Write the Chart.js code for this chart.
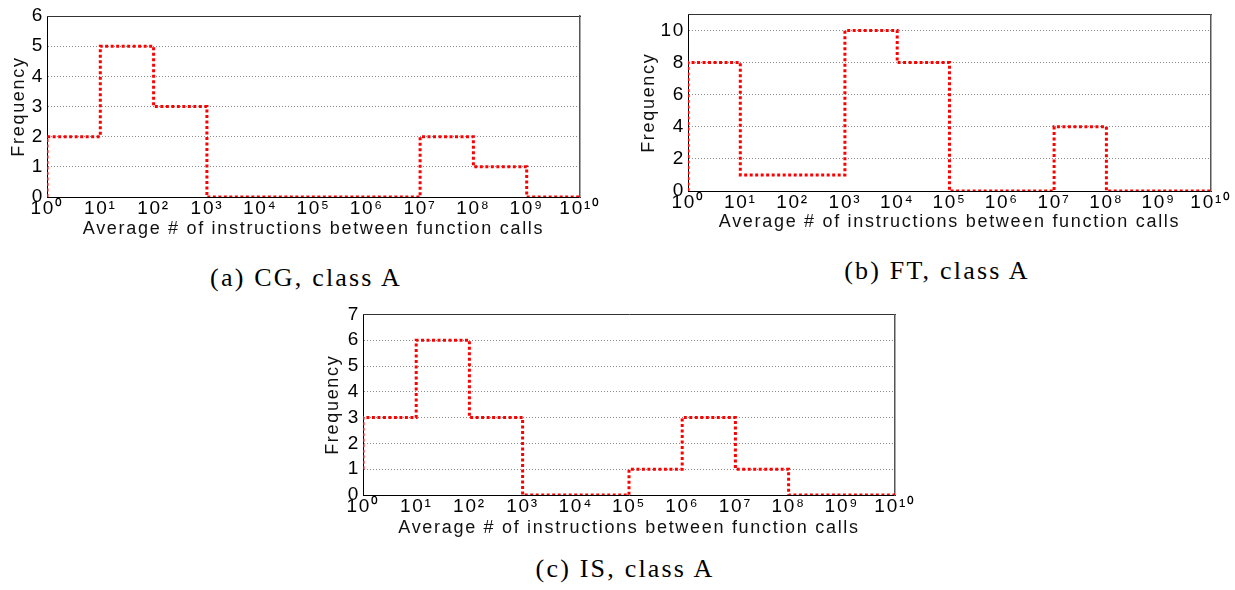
<!DOCTYPE html>
<html><head><meta charset="utf-8">
<script src="https://cdn.jsdelivr.net/npm/chart.js@4/dist/chart.umd.min.js"></script>
<style>
html,body{margin:0;padding:0;background:#fff;width:1235px;height:590px;overflow:hidden;position:relative}
canvas{position:absolute}
.cap{position:absolute;font-family:"Liberation Serif","Times New Roman",serif;font-size:26px;letter-spacing:2.2px;line-height:26px;white-space:nowrap;transform:translateX(-50%);color:#000}
</style></head><body>
<canvas id="cA" width="615" height="250" style="left:0;top:0"></canvas>
<canvas id="cB" width="605" height="250" style="left:630px;top:0"></canvas>
<canvas id="cC" width="611" height="250" style="left:314px;top:300px"></canvas>
<div class="cap" style="left:306px;top:265px">(a) CG, class A</div>
<div class="cap" style="left:937px;top:258px">(b) FT, class A</div>
<div class="cap" style="left:625px;top:556px">(c) IS, class A</div>
<script>
// ---- data ----
const decadeExponents = [0,1,2,3,4,5,6,7,8,9,10];
const xTickLabels = ['10\u2070','10\u00B9','10\u00B2','10\u00B3','10\u2074','10\u2075','10\u2076','10\u2077','10\u2078','10\u2079','10\u00B9\u2070'];
const xAxisTitle = 'Average # of instructions between function calls';
const yAxisTitle = 'Frequency';

const cgFrequency = [2,5,3,0,0,0,0,2,1,0];
const cgStartLevel = 0;
const cgYTicks = [0,1,2,3,4,5,6];
const cgYMax = 6;

const ftFrequency = [8,1,1,10,8,0,0,4,0,0];
const ftStartLevel = 0;
const ftYTicks = [0,2,4,6,8,10];
const ftYMax = 11;

const isFrequency = [3,6,3,0,0,1,3,1,0,0];
const isStartLevel = 1;
const isYTicks = [0,1,2,3,4,5,6,7];
const isYMax = 7;

// ---- helpers ----
const FONT = '"Liberation Sans", Arial, Helvetica, sans-serif';
const xTickValues = decadeExponents.map(e => Math.pow(10, e));

function stairPoints(freq, start) {
  const pts = [{x: xTickValues[0], y: start}];
  freq.forEach((v, i) => pts.push({x: xTickValues[i], y: v}));
  pts.push({x: xTickValues[xTickValues.length - 1], y: 0});
  return pts;
}

const spacingPlugin = {
  id: 'spacing',
  beforeLayout(chart) { chart.ctx.letterSpacing = '1.7px'; },
  beforeDraw(chart) { chart.ctx.letterSpacing = '1.7px'; }
};

function makeChart(id, freq, start, yTicks, yMax, g) {
  const tickFont = {family: FONT, size: 19};
  const titleFont = {family: FONT, size: 18};
  new Chart(document.getElementById(id), {
    type: 'line',
    plugins: [spacingPlugin],
    data: {datasets: [{
      data: stairPoints(freq, start),
      stepped: 'before',
      borderColor: '#ff0000',
      borderWidth: 3,
      borderDash: [3, 2.5],
      borderCapStyle: 'butt',
      pointRadius: 0,
      fill: false,
      tension: 0
    }]},
    options: {
      responsive: false, animation: false, devicePixelRatio: 1,
      layout: {padding: {left: 0, top: g.padTop, right: g.padRight, bottom: 0}},
      plugins: {legend: {display: false}, tooltip: {enabled: false}},
      scales: {
        x: {
          type: 'logarithmic', position: 'bottom', min: 1, max: 1e10,
          afterBuildTicks: s => { s.ticks = xTickValues.map(v => ({value: v})); },
          afterFit: s => { s.height = g.xH; },
          ticks: {callback: (v, i) => xTickLabels[i], font: tickFont, color: '#000', padding: 0, maxRotation: 0, autoSkip: false},
          grid: {display: false, drawTicks: false},
          border: {display: true, color: '#000', width: 1},
          title: {display: true, text: xAxisTitle, font: titleFont, color: '#111', padding: {top: 0, bottom: g.xtpb}}
        },
        y: {
          type: 'linear', position: 'left', min: 0, max: yMax,
          afterBuildTicks: s => { s.ticks = yTicks.map(v => ({value: v})); },
          afterFit: s => { s.width = g.yW; },
          ticks: {font: tickFont, color: '#000', padding: 3},
          grid: {color: '#8a8a8a', lineWidth: 1, drawTicks: false},
          border: {display: true, color: '#000', width: 1, dash: [1, 2]},
          title: {display: true, text: yAxisTitle, font: titleFont, color: '#111', padding: {top: 8, bottom: 0}}
        },
        x2: {
          type: 'linear', position: 'top', display: true, min: 0, max: 1,
          ticks: {display: false}, grid: {display: false, drawTicks: false},
          border: {display: true, color: '#333', width: 1},
          afterFit: s => { s.height = 0; }
        },
        y2: {
          type: 'linear', position: 'right', display: true, min: 0, max: 1,
          ticks: {display: false}, grid: {display: false, drawTicks: false},
          border: {display: true, color: '#555', width: 1.5},
          afterFit: s => { s.width = 0; }
        }
      }
    }
  });
}

makeChart('cA', cgFrequency, cgStartLevel, cgYTicks, cgYMax, {yW: 47, xH: 53, padTop: 16, padRight: 35, xtpb: 10});
makeChart('cB', ftFrequency, ftStartLevel, ftYTicks, ftYMax, {yW: 58, xH: 59, padTop: 13, padRight: 24, xtpb: 17});
makeChart('cC', isFrequency, isStartLevel, isYTicks, isYMax, {yW: 49, xH: 55, padTop: 14, padRight: 30, xtpb: 11});
</script>
</body></html>
